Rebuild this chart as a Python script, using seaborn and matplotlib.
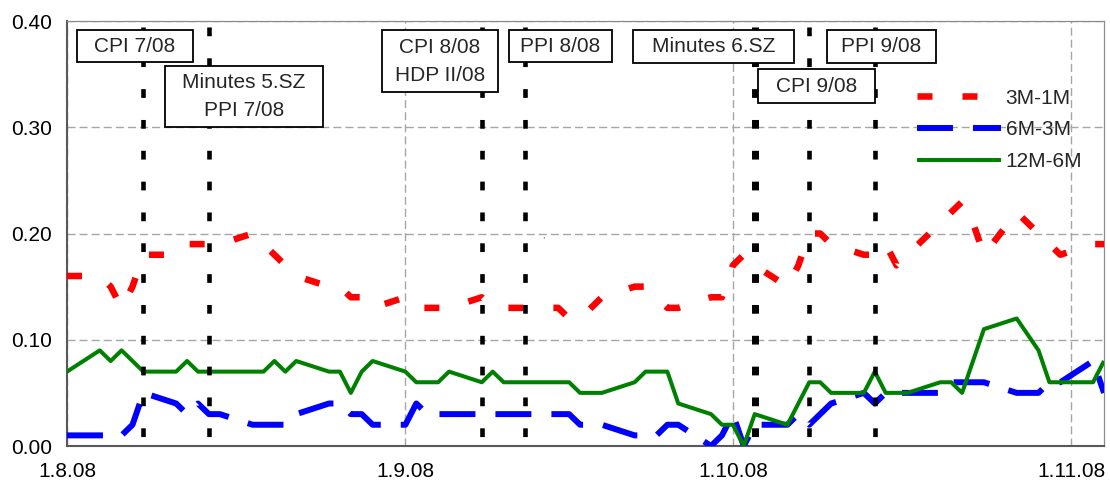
import matplotlib
matplotlib.use("Agg")
import matplotlib.pyplot as plt
from matplotlib.patches import Rectangle
import seaborn as sns
import pandas as pd

# ---------------- data ----------------
aug_days = [1, 4, 5, 6, 7, 8, 11, 12, 13, 14, 15, 18, 19, 20, 21, 22, 25, 26, 27, 28, 29]
sep_days = [1, 2, 3, 4, 5, 8, 9, 10, 11, 12, 15, 16, 17, 18, 19, 22, 23, 24, 25, 26, 29, 30]
oct_days = [1, 2, 3, 6, 7, 8, 9, 10, 13, 14, 15, 16, 17, 20, 21, 22, 23, 24, 27, 29, 30, 31]
nov_days = [3, 4]

s_3m1m = ([0.16, 0.16, 0.15, 0.13, 0.15, 0.18, 0.18, 0.19, 0.19, 0.19, 0.19, 0.20, 0.19, 0.18, 0.17, 0.16, 0.15, 0.15, 0.14, 0.14, 0.13]
          + [0.14, 0.13, 0.13, 0.13, 0.13, 0.14, 0.13, 0.13, 0.13, 0.13, 0.13, 0.12, 0.12, 0.13, 0.14, 0.15, 0.15, 0.14, 0.13, 0.13, 0.14, 0.14]
          + [0.17, 0.18, 0.17, 0.15, 0.17, 0.20, 0.20, 0.19, 0.18, 0.18, 0.19, 0.17, 0.18, 0.21, 0.22, 0.23, 0.21, 0.18, 0.22, 0.20, 0.19, 0.18]
          + [0.19, 0.19])
s_6m3m = ([0.01, 0.01, 0.01, 0.01, 0.02, 0.05, 0.04, 0.03, 0.04, 0.03, 0.03, 0.02, 0.02, 0.02, 0.02, 0.03, 0.04, 0.04, 0.03, 0.03, 0.02]
          + [0.02, 0.04, 0.03, 0.03, 0.03, 0.03, 0.03, 0.03, 0.03, 0.03, 0.03, 0.03, 0.02, 0.02, 0.02, 0.01, 0.01, 0.01, 0.02, 0.02, 0.00, 0.01]
          + [0.03, 0.00, 0.02, 0.02, 0.03, 0.02, 0.03, 0.04, 0.05, 0.04, 0.05, 0.05, 0.05, 0.05, 0.06, 0.06, 0.06, 0.06, 0.05, 0.05, 0.06, 0.06]
          + [0.08, 0.05])
s_12m6m = ([0.07, 0.09, 0.08, 0.09, 0.08, 0.07, 0.07, 0.08, 0.07, 0.07, 0.07, 0.07, 0.07, 0.08, 0.07, 0.08, 0.07, 0.07, 0.05, 0.07, 0.08]
           + [0.07, 0.06, 0.06, 0.06, 0.07, 0.06, 0.07, 0.06, 0.06, 0.06, 0.06, 0.06, 0.05, 0.05, 0.05, 0.06, 0.07, 0.07, 0.07, 0.04, 0.03, 0.02]
           + [0.02, 0.00, 0.03, 0.02, 0.04, 0.06, 0.06, 0.05, 0.05, 0.07, 0.05, 0.05, 0.05, 0.06, 0.06, 0.05, 0.08, 0.11, 0.12, 0.09, 0.06, 0.06]
           + [0.06, 0.08])
series_names = ["3M-1M", "6M-3M", "12M-6M"]

event_dates = ["2008-08-08", "2008-08-14", "2008-09-08", "2008-09-12",
               "2008-10-03", "2008-10-08", "2008-10-14"]
event_labels = ["CPI 7/08", "Minutes 5.SZ\nPPI 7/08", "CPI 8/08\nHDP II/08", "PPI 8/08",
                "Minutes 6.SZ", "CPI 9/08", "PPI 9/08"]

xtick_dates = ["2008-08-01", "2008-09-01", "2008-10-01", "2008-11-01"]
xtick_labels = ["1.8.08", "1.9.08", "1.10.08", "1.11.08"]
ytick_values = [0.0, 0.1, 0.2, 0.3, 0.4]
ytick_labels = ["0.00", "0.10", "0.20", "0.30", "0.40"]

# ---------------- build frame ----------------
dates = pd.to_datetime([f"2008-08-{d:02d}" for d in aug_days]
                       + [f"2008-09-{d:02d}" for d in sep_days]
                       + [f"2008-10-{d:02d}" for d in oct_days]
                       + [f"2008-11-{d:02d}" for d in nov_days])
df = pd.DataFrame({"date": dates, "3M-1M": s_3m1m, "6M-3M": s_6m3m, "12M-6M": s_12m6m})
long = df.melt(id_vars="date", var_name="series", value_name="value")

# ---------------- style ----------------
sns.set_style("white")
plt.rcParams["font.family"] = ["Liberation Sans", "DejaVu Sans"]
plt.rcParams["lines.scale_dashes"] = False
FS = 15

fig = plt.figure(figsize=(11.1, 4.86), dpi=100)
ax = fig.add_axes([67 / 1110, 40 / 486, 1037 / 1110, 425 / 486])

styles = {
    "3M-1M": dict(color="#FF0000", lw=4.7, ls=(0, (10.8, 21.6))),
    "6M-3M": dict(color="#0000FF", lw=4.3, ls=(0, (25.9, 14.4))),
    "12M-6M": dict(color="#008000", lw=2.9, ls="-"),
}
handles = []
for i, name in enumerate(series_names):
    sub = long[long["series"] == name]
    st = styles[name]
    sns.lineplot(data=sub, x="date", y="value", ax=ax, color=st["color"],
                 linewidth=st["lw"], errorbar=None, legend=False, zorder=3 + i)
    ln = ax.lines[-1]
    ln.set_linestyle(st["ls"])
    ln.set_dash_capstyle("butt")
    ln.set_solid_capstyle("butt")
    handles.append(ln)

# event lines
ev = pd.to_datetime(event_dates)
for i, d in enumerate(ev):
    w = 5.0 if i == 4 else 3.3
    ax.plot([d, d], [0.40, 0.0], color="black", lw=w,
            linestyle=(17.9, (6.3, 15.9)), dash_capstyle="butt", zorder=6)

# annotation boxes (pixel layout converted to axes fraction)
box_layout = [
    (77, 30, 193, 62), (165, 66, 323, 127), (382, 30, 498, 92), (509, 30, 612, 62),
    (633, 30, 794, 63), (758, 69, 875, 103), (827, 30, 936, 63),
]
for lab, (x0, y0, x1, y1) in zip(event_labels, box_layout):
    fx0 = (x0 - 67) / 1037
    fx1 = (x1 - 67) / 1037
    fy0 = (446 - y1) / 425
    fy1 = (446 - y0) / 425
    ax.add_patch(Rectangle((fx0, fy0), fx1 - fx0, fy1 - fy0, transform=ax.transAxes,
                           facecolor="white", edgecolor="black", lw=1.3, zorder=8, clip_on=False))
    ax.text((fx0 + fx1) / 2, (fy0 + fy1) / 2, lab, transform=ax.transAxes, ha="center",
            va="center", fontsize=FS, linespacing=1.6, zorder=9)

ax.text((543 - 67) / 1037, (446 - 237) / 425, ",", transform=ax.transAxes, fontsize=6,
        ha="center", va="center", zorder=9)

# axes
ax.set_xlim(pd.Timestamp("2008-08-01"), pd.Timestamp("2008-11-04"))
ax.set_ylim(0, 0.40)
ax.set_xticks(pd.to_datetime(xtick_dates))
ax.set_xticklabels(xtick_labels)
ax.set_yticks(ytick_values)
ax.set_yticklabels(ytick_labels)
ax.set_xlabel("")
ax.set_ylabel("")
ax.grid(True, color="#A6A6A6", lw=1.0, linestyle=(0, (5.8, 2.9)), zorder=0)
ax.set_axisbelow(True)

for side in ["left", "bottom"]:
    ax.spines[side].set_color("#595959")
    ax.spines[side].set_linewidth(1.5)
for side in ["top", "right"]:
    ax.spines[side].set_color("#8C8C8C")
    ax.spines[side].set_linewidth(0.9)
ax.tick_params(axis="both", direction="out", length=4.5, width=1.0, color="#595959",
               labelsize=FS, labelcolor="black")
ax.tick_params(axis="y", pad=6.5)
ax.tick_params(axis="x", pad=7)

ax.legend(handles, series_names, loc="upper left", bbox_to_anchor=(0.8197, 0.841),
          frameon=False, fontsize=FS, handlelength=4.05, handletextpad=0.2,
          labelspacing=0.62, borderaxespad=0, borderpad=0)

fig.savefig("out.png", dpi=100)
